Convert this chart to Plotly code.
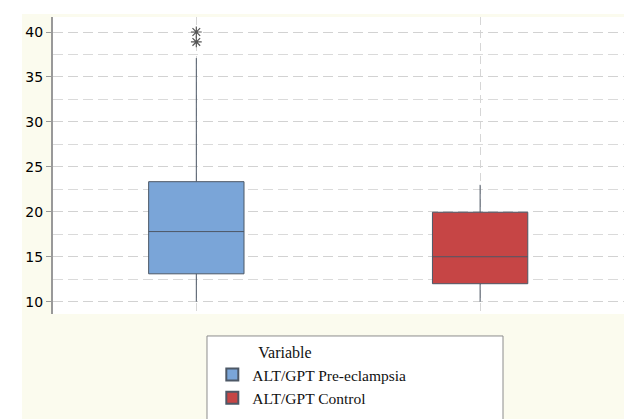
import plotly.graph_objects as go

# ---- data ----
categories = ["ALT/GPT Pre-eclampsia", "ALT/GPT Control"]
positions = [0, 1]
q1_vals = [13.1, 12.0]
median_vals = [17.8, 15.0]
q3_vals = [23.35, 19.95]
lower_whisker = [10.0, 10.0]
upper_whisker = [37.1, 23.0]
outliers_pre = [40.0, 38.9]
fill_colors = ["#7aa5d8", "#c64545"]
y_ticks = [10, 15, 20, 25, 30, 35, 40]

fig = go.Figure()

for i, name in enumerate(categories):
    fig.add_trace(go.Box(
        name=name,
        x=[positions[i]],
        q1=[q1_vals[i]], median=[median_vals[i]], q3=[q3_vals[i]],
        lowerfence=[lower_whisker[i]], upperfence=[upper_whisker[i]],
        fillcolor=fill_colors[i],
        line=dict(color="#4d5866", width=1),
        width=0.336,
        whiskerwidth=0,
        boxpoints=False,
        hoverinfo="skip",
    ))

fig.add_trace(go.Scatter(
    x=[positions[0]] * len(outliers_pre),
    y=outliers_pre,
    mode="markers",
    marker=dict(symbol="asterisk-open", size=9, color="#555555",
                line=dict(color="#555555", width=1.2)),
    showlegend=False,
    hoverinfo="skip",
))

# cream graph region, then white data region on top of it
fig.add_shape(type="rect", xref="paper", yref="paper",
              x0=-0.0543, x1=1.01, y0=-0.36, y1=1.0101,
              fillcolor="#fbfbee", line=dict(width=0), layer="below")
fig.add_shape(type="rect", xref="paper", yref="paper",
              x0=0, x1=1.01, y0=0, y1=1.0,
              fillcolor="white", line=dict(width=0), layer="below")
# legend frame
fig.add_shape(type="rect", xref="paper", yref="paper",
              x0=0.2697, x1=0.7881, y0=-0.4, y1=-0.074,
              fillcolor="white", line=dict(width=1, color="#8c8c8c"), layer="below")

fig.update_layout(
    width=624, height=419,
    margin=dict(l=53, r=0, t=17, b=105),
    paper_bgcolor="white",
    plot_bgcolor="white",
    boxmode="overlay",
    showlegend=True,
    legend=dict(
        x=0.279, xanchor="left", y=-0.078, yanchor="top",
        bgcolor="rgba(0,0,0,0)", borderwidth=0,
        font=dict(family="Liberation Serif", size=15.5, color="#111111"),
        title=dict(text="\u00a0" * 11 + "Variable",
                   font=dict(family="Liberation Serif", size=16, color="#111111")),
        tracegroupgap=0,
        itemsizing="constant",
    ),
    xaxis=dict(
        range=[-0.505, 1.507],
        tickvals=positions,
        showticklabels=False,
        ticks="",
        showgrid=True,
        gridcolor="#d6d6d6",
        griddash="8px,5px",
        gridwidth=1,
        zeroline=False,
        showline=False,
        fixedrange=True,
    ),
    yaxis=dict(
        range=[8.63, 41.67],
        tickvals=y_ticks,
        ticks="outside",
        ticklen=5,
        tickcolor="#999999",
        tickfont=dict(family="DejaVu Sans", size=14, color="#000000"),
        showline=True,
        linecolor="#999999",
        linewidth=2,
        showgrid=True,
        gridcolor="#d2d2d2",
        griddash="10px,5px",
        gridwidth=1,
        zeroline=False,
        minor=dict(dtick=2.5, tick0=10, showgrid=True, gridcolor="#dadada",
                   griddash="10px,5px", gridwidth=1, ticks=""),
    ),
)

fig.write_html("out.html")
